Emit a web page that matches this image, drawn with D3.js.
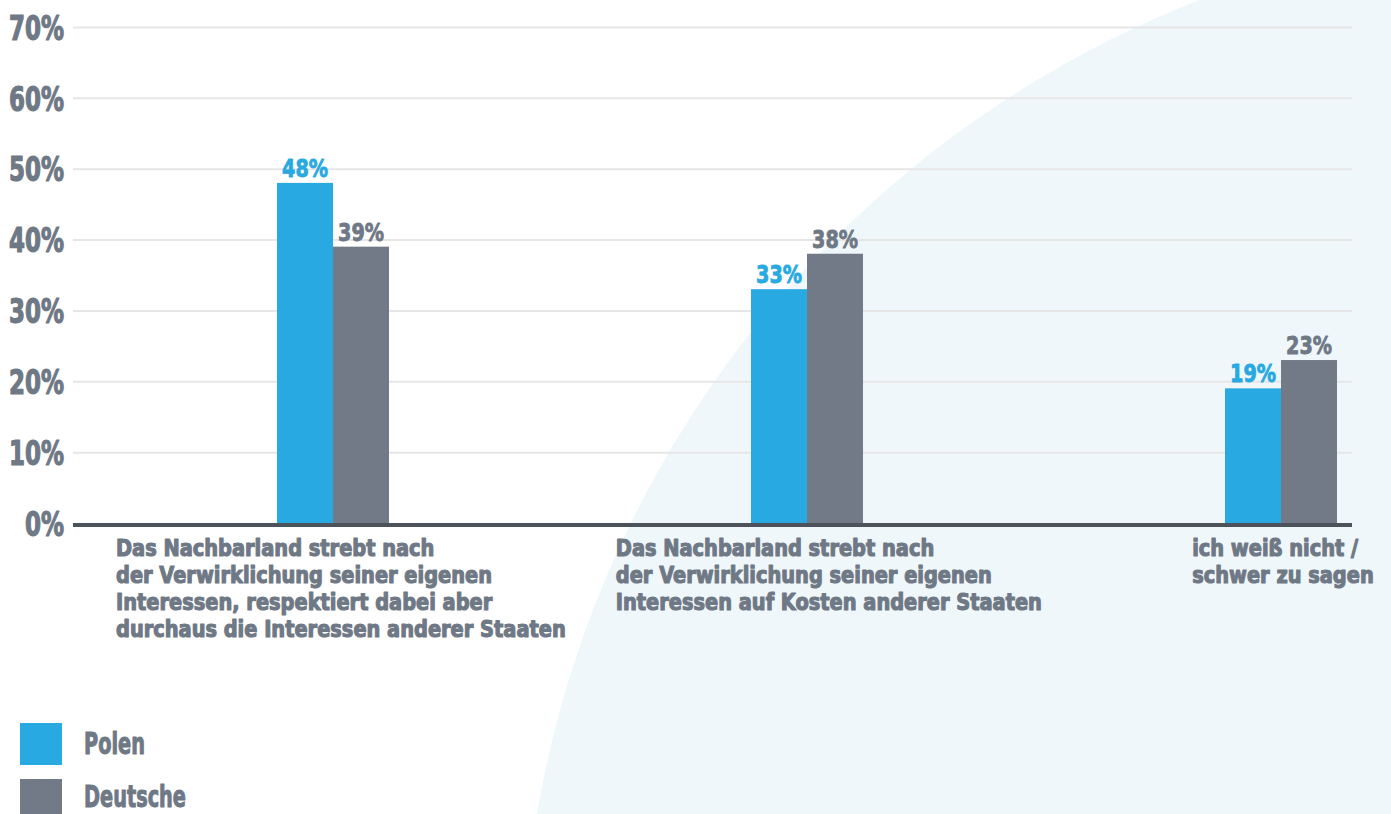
<!DOCTYPE html>
<html>
<head>
<meta charset="utf-8">
<script src="https://cdn.jsdelivr.net/npm/d3@7"></script>
<style>
  html, body { margin: 0; padding: 0; background: #ffffff; overflow: hidden; }
  svg { display: block; }
  text { font-family: "DejaVu Sans Condensed", "Liberation Sans Narrow", "Roboto Condensed", sans-serif; font-weight: bold; }
</style>
</head>
<body>
<script>
// ---------- data ----------
const categories = [
  ["Das Nachbarland strebt nach", "der Verwirklichung seiner eigenen", "Interessen, respektiert dabei aber", "durchaus die Interessen anderer Staaten"],
  ["Das Nachbarland strebt nach", "der Verwirklichung seiner eigenen", "Interessen auf Kosten anderer Staaten"],
  ["ich weiß nicht /", "schwer zu sagen"]
];
const seriesNames = ["Polen", "Deutsche"];
const polen = [48, 33, 19];
const deutsche = [39, 38, 23];
const yTicks = [0, 10, 20, 30, 40, 50, 60, 70];

// ---------- setup ----------
const W = 1391, H = 814;
const colors = { Polen: "#29a9e1", Deutsche: "#717a86" };
const textGray = "#6f7885";

const svg = d3.select("body").append("svg").attr("width", W).attr("height", H);

// background arc
svg.append("circle").attr("cx", 1587).attr("cy", 992).attr("r", 1065).attr("fill", "#eff7fb");

const catKeys = categories.map((c, i) => "c" + i);
const x0 = d3.scaleBand().domain(catKeys).range([96, 1518]);
const groupW = 112;
const x1 = d3.scaleBand().domain(seriesNames).range([0, groupW]);
const y = d3.scaleLinear().domain([0, 70]).range([523, 27]);
const plotLeft = 73, plotRight = 1352;

function squeeze(fontSize, sample, target) {
  const t = svg.append("text").attr("font-size", fontSize).text(sample);
  const w = t.node().getComputedTextLength();
  t.remove();
  return target / w;
}
const catFs = 23;
const kTick = squeeze(34, "70%", 55);
const kVal = squeeze(24, "48%", 46);
const kCat = squeeze(catFs, "durchaus die Interessen anderer Staaten", 450);
const kLeg = squeeze(30, "Deutsche", 102);

function heavy(sel, color, w) {
  return sel.attr("fill", color).attr("stroke", color).attr("stroke-width", w)
    .attr("stroke-linejoin", "round");
}

// axis + gridlines
const axis = d3.axisLeft(y).tickValues(yTicks).tickFormat(d => d + "%")
  .tickSize(-(plotRight - plotLeft)).tickPadding(8);
const gAxis = svg.append("g").attr("transform", `translate(${plotLeft},0)`).call(axis);
gAxis.select(".domain").remove();
gAxis.attr("font-family", null).attr("font-size", null);
gAxis.selectAll(".tick line").attr("stroke", "#e6e6e6").attr("stroke-width", 2)
  .filter(d => d === 0).remove();
heavy(gAxis.selectAll(".tick text"), textGray, 1.2)
  .attr("font-size", 34)
  .attr("x", -9 / kTick).attr("dy", "0.36em")
  .attr("transform", `scale(${kTick},1)`);

// bars
const data = categories.map((c, i) => ({ key: catKeys[i], lines: c, vals: [
  { s: "Polen", v: polen[i] }, { s: "Deutsche", v: deutsche[i] } ] }));

const groups = svg.append("g").selectAll("g").data(data).join("g")
  .attr("transform", d => `translate(${x0(d.key) + x0.bandwidth() / 2 - groupW / 2},0)`);

groups.selectAll("rect").data(d => d.vals).join("rect")
  .attr("x", d => x1(d.s)).attr("width", x1.bandwidth())
  .attr("y", d => y(d.v)).attr("height", d => y(0) - y(d.v))
  .attr("fill", d => colors[d.s]);

groups.selectAll("text.val").data(d => d.vals).join("text").attr("class", "val")
  .attr("transform", d => `translate(${x1(d.s) + x1.bandwidth() / 2},${y(d.v) - 6}) scale(${kVal},1)`)
  .attr("text-anchor", "middle").attr("font-size", 24)
  .each(function (d) { heavy(d3.select(this), d.s === "Polen" ? colors.Polen : textGray, 0.8); })
  .text(d => d.v + "%");

// baseline
svg.append("line").attr("x1", plotLeft).attr("x2", plotRight)
  .attr("y1", y(0) + 2).attr("y2", y(0) + 2)
  .attr("stroke", "#4c535b").attr("stroke-width", 4);

// category labels (one text per category, lines as tspans)
const labelShift = [8, 22, 2];
data.forEach((d, i) => {
  const cx = x0(d.key) + x0.bandwidth() / 2 + labelShift[i];
  const t = svg.append("text").attr("font-size", catFs);
  heavy(t, textGray, 1.1);
  d.lines.forEach((line, j) => t.append("tspan").attr("x", 0).attr("y", j * 27).text(line));
  const maxW = d3.max(t.selectAll("tspan").nodes(), n => n.getComputedTextLength()) * kCat;
  t.attr("transform", `translate(${cx - maxW / 2},556) scale(${kCat},1)`);
});

// legend
const leg = svg.append("g").selectAll("g").data(seriesNames).join("g")
  .attr("transform", (d, i) => `translate(20,${723 + i * 56})`);
leg.append("rect").attr("width", 42).attr("height", 42).attr("fill", d => colors[d]);
heavy(leg.append("text"), textGray, 1)
  .attr("font-size", 30)
  .attr("transform", `translate(64,31) scale(${kLeg},1)`).text(d => d)
  .attr("dy", (d, i) => i === 1 ? -3 : 0);
</script>
</body>
</html>
